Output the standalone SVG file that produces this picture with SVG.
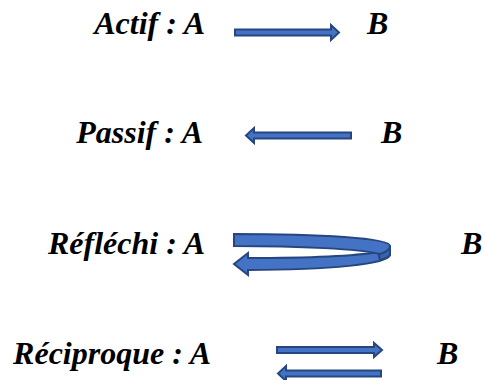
<svg xmlns="http://www.w3.org/2000/svg" width="485" height="380" viewBox="0 0 485 380">
<style>
text{font-family:'Liberation Serif','Times New Roman',serif;font-weight:700;font-style:italic;font-size:32px;fill:#000}
.a{fill:#4472C4;stroke:#26467F;stroke-width:2;stroke-linejoin:miter}
.d{fill:#3A63AE;stroke:#26467F;stroke-width:2}
</style>
<rect width="485" height="380" fill="#fff"/>
<g id="actif">
<text x="205" y="34" text-anchor="end">Actif : A</text>
<text x="367" y="34">B</text>
</g>
<g id="passif">
<text x="203" y="143" text-anchor="end">Passif : A</text>
<text x="381" y="143">B</text>
</g>
<g id="reflechi">
<text x="205" y="254" text-anchor="end">Réfléchi : A</text>
<text x="461" y="254">B</text>
</g>
<g id="reciproque">
<text x="211" y="364" text-anchor="end">Réciproque : A</text>
<text x="437" y="364">B</text>
</g>
<g id="connectors">
<polygon class="a" points="235,29.5 331,29.5 331,25 339,32.5 331,40 331,35.5 235,35.5"/>
<polygon class="a" points="351,132.5 254,132.5 254,128 246,135.5 254,143 254,138.5 351,138.5"/>
<path class="a" d="M248,258 C310,258 355,256 378,252 L390,247 L390,255 C388,264 330,270 248,270 L248,275 L234,264 L248,253 Z"/>
<path class="d" d="M378,252 C384,250 390,248 390,246 L390,255 C388,258 384,259 380,260 Z"/>
<path class="a" d="M234,234 C320,234 390,238 390,246 C390,250 386,252 380,254 C360,249 300,246 234,246 Z"/>
<polygon class="a" points="277,347 374,347 374,343 382,350 374,357 374,353 277,353"/>
<polygon class="a" points="381,370.5 286,370.5 286,366 278,373.5 286,381 286,376.5 381,376.5"/>
</g>
</svg>
